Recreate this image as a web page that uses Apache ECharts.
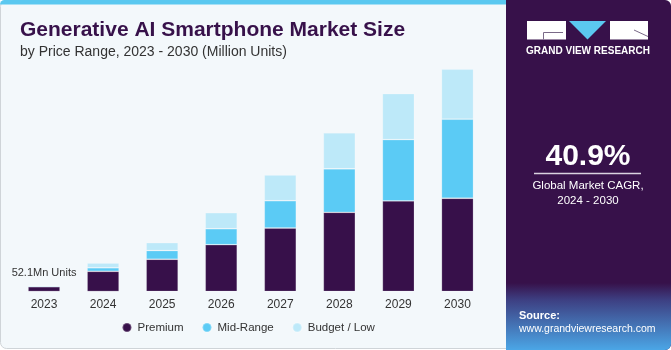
<!DOCTYPE html>
<html>
<head>
<meta charset="utf-8">
<script src="https://cdn.jsdelivr.net/npm/echarts@6/dist/echarts.min.js"></script>
<style>
  html, body { margin: 0; padding: 0; background: #ffffff; }
  #main { width: 671px; height: 350px; }
</style>
</head>
<body>
<div id="main"></div>
<script>
// values in million units
const years = ['2023', '2024', '2025', '2026', '2027', '2028', '2029', '2030'];
const premium = [41.5, 175, 280, 406, 551, 687, 786, 809];
const midRange = [8.5, 31, 75, 139, 237, 378, 532, 686];
const budgetLow = [2.1, 41, 69, 139, 223, 312, 399, 434];
const seriesNames = ['Premium', 'Mid-Range', 'Budget / Low'];
const firstYearLabel = '52.1Mn Units';
const cagrValue = '40.9%';
const cagrText = ['Global Market CAGR,', '2024 - 2030'];

const FONT = '"Liberation Sans", Arial, sans-serif';
const purple = '#37114a';
const colors = ['#37104a', '#5bcbf5', '#bde9f9'];

const barStyle = (c) => ({
  color: c,
  borderColor: 'rgba(255,255,255,0.25)',
  borderWidth: 0.8
});

const text = (t, x, y, font, align, fill) => ({
  type: 'text',
  silent: true,
  style: {
    text: t, x: x, y: y, font: font, fill: fill || '#ffffff',
    align: align, textAlign: align,
    verticalAlign: 'middle', textVerticalAlign: 'middle'
  }
});

const chart = echarts.init(document.getElementById('main'));

const option = {
  animation: false,
  textStyle: { fontFamily: FONT },
  title: {
    text: 'Generative AI Smartphone Market Size',
    subtext: 'by Price Range, 2023 - 2030 (Million Units)',
    left: 15,
    top: 15,
    itemGap: 4,
    textStyle: { fontFamily: FONT, fontSize: 21, fontWeight: 'bold', color: purple },
    subtextStyle: { fontFamily: FONT, fontSize: 14, color: '#333333' }
  },
  legend: {
    data: seriesNames,
    left: 121.5,
    top: 321.5,
    padding: 0,
    icon: 'circle',
    itemWidth: 9,
    itemHeight: 9,
    itemGap: 18,
    textStyle: { fontFamily: FONT, fontSize: 11.5, color: '#333333', padding: [0, 0, 0, 1] }
  },
  grid: { left: 14.5, right: 184, top: 61, bottom: 58.5 },
  xAxis: {
    type: 'category',
    data: years,
    axisLine: { show: false },
    axisTick: { show: false },
    axisLabel: { color: '#333333', fontSize: 12, margin: 7, fontFamily: FONT }
  },
  yAxis: {
    type: 'value',
    min: 0,
    max: 2000,
    show: false,
    splitLine: { show: false }
  },
  graphic: [
    { type: 'rect', z: -10, silent: true, shape: { x: 0.5, y: 0.5, width: 670, height: 348, r: 6 },
      style: { fill: '#f3f8fb', stroke: '#cfd4d8', lineWidth: 1 } },
    { type: 'rect', z: -9, silent: true, shape: { x: 0, y: 0, width: 507, height: 4.5, r: [5, 0, 0, 0] },
      style: { fill: '#5ac8f0' } },
    { type: 'rect', z: -9, silent: true, shape: { x: 506, y: 0, width: 165, height: 350, r: [0, 6, 6, 0] },
      style: { fill: purple } },
    { type: 'rect', z: -8, silent: true, shape: { x: 506, y: 283, width: 165, height: 67, r: [0, 0, 6, 0] },
      style: {
        fill: new echarts.graphic.LinearGradient(0, 0, 0, 1, [
          { offset: 0, color: '#37114a' },
          { offset: 0.25, color: '#3d3f82' },
          { offset: 1, color: '#4ba6e6' }
        ])
      } },
    // logo
    { type: 'rect', silent: true, shape: { x: 527, y: 21, width: 39, height: 18.5 }, style: { fill: '#ffffff' } },
    { type: 'polygon', silent: true, shape: { points: [[569, 21], [606, 21], [587.5, 39.5]] }, style: { fill: '#5bc8f0' } },
    { type: 'rect', silent: true, shape: { x: 610, y: 21, width: 38, height: 18.5 }, style: { fill: '#ffffff' } },
    { type: 'polyline', silent: true, shape: { points: [[563, 32.5], [543.5, 32.5], [543.5, 39.5]] },
      style: { stroke: '#7a6a88', lineWidth: 1, fill: null } },
    { type: 'polyline', silent: true, shape: { points: [[634, 30], [648, 36.5]] },
      style: { stroke: '#7a6a88', lineWidth: 1, fill: null } },
    text('GRAND VIEW RESEARCH', 588, 51, 'bold 10px ' + FONT, 'center'),
    text(cagrValue, 588, 157, 'bold 30px ' + FONT, 'center'),
    { type: 'line', silent: true, shape: { x1: 534, y1: 173.5, x2: 641, y2: 173.5 },
      style: { stroke: '#d9d2e0', lineWidth: 1.5 } },
    text(cagrText[0], 588, 185.5, '11.5px ' + FONT, 'center'),
    text(cagrText[1], 588, 200.5, '11.5px ' + FONT, 'center'),
    text('Source:', 519, 315.5, 'bold 11px ' + FONT, 'left'),
    text('www.grandviewresearch.com', 519, 329, '10.5px ' + FONT, 'left')
  ],
  series: [
    {
      name: seriesNames[0],
      type: 'bar',
      stack: 'total',
      barWidth: 32,
      itemStyle: barStyle(colors[0]),
      data: premium
    },
    {
      name: seriesNames[1],
      type: 'bar',
      stack: 'total',
      barWidth: 32,
      itemStyle: barStyle(colors[1]),
      data: midRange
    },
    {
      name: seriesNames[2],
      type: 'bar',
      stack: 'total',
      barWidth: 32,
      itemStyle: barStyle(colors[2]),
      data: budgetLow.map((v, i) => i === 0 ? {
        value: v,
        label: {
          show: true,
          position: 'top',
          distance: 7,
          formatter: firstYearLabel,
          color: '#333333',
          fontSize: 11,
          fontFamily: FONT
        }
      } : v)
    }
  ]
};

chart.setOption(option);
</script>
</body>
</html>
